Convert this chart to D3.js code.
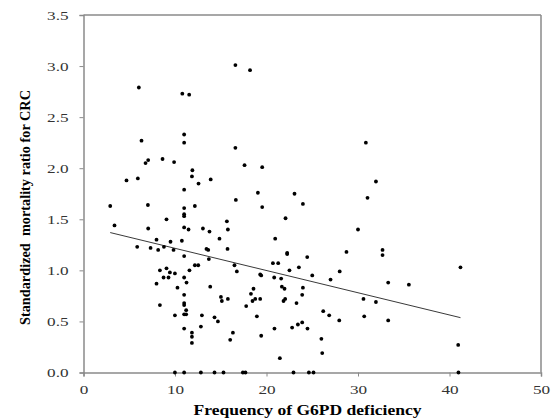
<!DOCTYPE html>
<html><head><meta charset="utf-8">
<script src="https://cdn.jsdelivr.net/npm/d3@7/dist/d3.min.js"></script>
<style>body{margin:0;background:#fff}svg{display:block}</style>
</head><body>
<script>
const xValues = [16.6,18.2,6.05,10.8,11.55,6.34,11.0,11.0,16.6,6.78,7.07,8.64,9.9,17.6,4.7,5.94,11.9,11.85,12.57,13.9,11.0,19.06,16.65,30.86,19.53,31.96,23.06,31.04,19.53,23.98,22.08,30.0,20.95,22.26,22.26,28.74,32.68,32.68,24.45,20.7,21.28,41.2,23.54,22.51,28.0,19.31,19.42,25.0,20.84,21.6,27.0,33.3,35.56,18.58,21.68,21.97,23.98,23.9,18.77,19.31,18.47,22.04,21.86,23.28,30.6,31.96,18.95,26.2,26.85,27.95,30.68,33.3,23.9,23.43,20.87,22.8,24.48,19.42,26.0,26.09,21.46,40.95,22.95,24.63,25.14,40.98,2.92,7.04,3.39,11.0,11.0,11.0,12.17,9.07,15.67,7.07,11.0,11.48,13.05,13.77,14.86,15.78,7.98,9.51,10.75,5.87,7.33,8.79,8.16,9.84,13.44,13.63,15.74,11.0,13.7,12.17,12.54,16.5,8.35,9.07,11.58,16.76,9.44,9.99,8.75,9.29,11.0,11.26,7.98,10.27,13.85,11.0,15.02,15.12,15.78,11.0,11.0,8.35,11.22,11.0,11.22,17.78,18.3,9.99,12.94,14.32,14.69,11.0,11.85,12.83,11.85,11.85,16.33,16.03,9.99,11.0,12.83,14.32,15.3,17.42,17.7];
const yValues = [3.01,2.96,2.79,2.73,2.72,2.27,2.33,2.25,2.20,2.05,2.08,2.09,2.06,2.03,1.88,1.90,1.98,1.92,1.85,1.89,1.79,1.76,1.69,2.25,2.01,1.87,1.75,1.71,1.62,1.65,1.51,1.40,1.31,1.17,1.16,1.18,1.20,1.15,1.13,1.07,1.07,1.03,1.03,1.00,0.99,0.96,0.95,0.95,0.93,0.92,0.91,0.88,0.86,0.82,0.84,0.82,0.83,0.76,0.72,0.72,0.70,0.72,0.70,0.68,0.72,0.69,0.55,0.60,0.56,0.51,0.55,0.51,0.49,0.47,0.43,0.44,0.43,0.36,0.33,0.19,0.14,0.27,0,0,0,0,1.63,1.64,1.44,1.61,1.55,1.53,1.63,1.50,1.48,1.41,1.42,1.40,1.41,1.38,1.31,1.40,1.30,1.28,1.29,1.23,1.22,1.23,1.20,1.20,1.21,1.20,1.21,1.14,1.11,1.05,1.05,1.05,1.00,1.02,1.00,0.99,0.98,0.97,0.93,0.93,0.93,0.88,0.87,0.83,0.84,0.76,0.74,0.70,0.72,0.68,0.66,0.66,0.61,0.57,0.57,0.65,0.77,0.56,0.56,0.54,0.50,0.43,0.39,0.45,0.35,0.29,0.39,0.32,0,0,0,0,0,0,0];
const xTicks = [0,10,20,30,40,50];
const yTicks = [0,0.5,1,1.5,2,2.5,3,3.5];
const trendX = [2.92, 41.2];
const trendY = [1.37, 0.537];
const xTitle = "Frequency of G6PD deficiency";
const yTitle = "Standardized  mortality ratio for CRC";

const W = 555, H = 420;
const m = {left: 83.5, right: 541, top: 15, bottom: 372.5};
const svg = d3.select("body").append("svg").attr("width", W).attr("height", H);
const x = d3.scaleLinear().domain([0,50]).range([m.left, m.right]);
const y = d3.scaleLinear().domain([0,3.5]).range([m.bottom, m.top]);
const axisColor = "#8a8a8a";
const font = "'Liberation Serif', 'Times New Roman', serif";
const stretch = 1.32;

// frame top/right
svg.append("line").attr("x1", x(0)).attr("x2", x(50)).attr("y1", y(3.5)).attr("y2", y(3.5)).attr("stroke", axisColor).attr("stroke-width", 1.5);
svg.append("line").attr("x1", x(50)).attr("x2", x(50)).attr("y1", y(3.5)).attr("y2", y(0)).attr("stroke", axisColor).attr("stroke-width", 1.5);

const xa = svg.append("g").attr("transform", `translate(0,${y(0)})`)
  .call(d3.axisBottom(x).tickValues(xTicks).tickFormat(d3.format("d")).tickSizeOuter(0).tickSize(4).tickPadding(8));
const ya = svg.append("g").attr("transform", `translate(${x(0)},0)`)
  .call(d3.axisLeft(y).tickValues(yTicks).tickFormat(d3.format(".1f")).tickSizeOuter(0).tickSize(4).tickPadding(11));
[xa, ya].forEach(g => {
  g.select(".domain").attr("stroke", axisColor).attr("stroke-width", 1.5);
  g.selectAll(".tick line").attr("stroke", axisColor).attr("stroke-width", 1);
  g.selectAll(".tick text").attr("fill", "#333").style("font-family", font).style("font-size", "13px")
    .each(function(){ const L = this.getComputedTextLength(); d3.select(this).attr("textLength", L*stretch).attr("lengthAdjust","spacingAndGlyphs"); });
});

// trend line
svg.append("line").attr("x1", x(trendX[0])).attr("y1", y(trendY[0])).attr("x2", x(trendX[1])).attr("y2", y(trendY[1]))
  .attr("stroke", "#222").attr("stroke-width", 0.9);

// points
const pts = xValues.map((v,i)=>({x:v, y:yValues[i]}));
svg.append("g").selectAll("circle").data(pts).join("circle")
  .attr("cx", d => x(d.x)).attr("cy", d => y(d.y)).attr("r", 1.9).attr("fill", "#000");

svg.append("text").attr("x", 307.5).attr("y", 415).attr("text-anchor", "middle")
  .style("font-family", font).style("font-size", "15px").style("font-weight", "bold")
  .attr("textLength", 228).attr("lengthAdjust", "spacingAndGlyphs").text(xTitle);
svg.append("text").attr("transform", `translate(29.5,207.5) rotate(-90)`).attr("text-anchor", "middle")
  .style("font-family", font).style("font-size", "14px").style("font-weight", "bold").style("white-space","pre")
  .attr("textLength", 235).attr("lengthAdjust", "spacingAndGlyphs").text(yTitle);
</script>
</body></html>
